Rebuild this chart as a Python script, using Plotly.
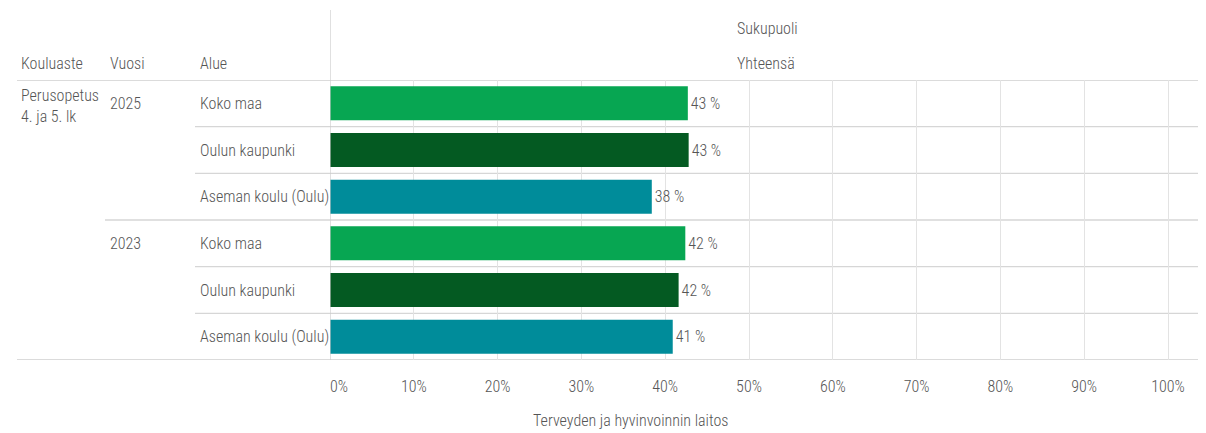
import plotly.graph_objects as go

# ---- data ----
kouluaste = "Perusopetus<br>4. ja 5. lk"
years = ["2025", "2023"]
areas = ["Koko maa", "Oulun kaupunki", "Aseman koulu (Oulu)"]
values_2025 = [42.7, 42.8, 38.4]
values_2023 = [42.4, 41.6, 40.9]
area_colors = ["#07a652", "#045a22", "#008c9a"]
tick_vals = [0, 10, 20, 30, 40, 50, 60, 70, 80, 90, 100]
tick_text = ["\u00a0\u00a0\u00a0\u00a0\u00a00%"] + [f"{v}%" for v in tick_vals[1:]]

FONT = "Roboto Condensed, Arial Narrow, Liberation Sans Narrow, Roboto, sans-serif"
TXT = "#555555"
FS = 16
FW = 300

OFF = 8  # page body margin
W, H = 1206 - OFF, 433 - OFF
ML, MR, MT = 330 - OFF, 0, 80 - OFF
MB = H - (360 - OFF)
PW = W - ML - MR
PH = H - MT - MB


def px_to_paper_x(px):
    return (px - OFF - ML) / PW


def px_to_paper_y(py):
    return 1 - (py - OFF - MT) / PH


all_vals = values_2025 + values_2023
all_areas = areas + areas
all_colors = area_colors + area_colors
rows = list(range(len(all_vals)))

fig = go.Figure()
fig.add_trace(go.Bar(
    x=all_vals, y=rows, orientation="h",
    width=0.73,
    marker=dict(color=all_colors, line=dict(width=0)),
    text=[f"{v:.0f} %" for v in all_vals],
    textposition="outside",
    textfont=dict(family=FONT, size=FS, color=TXT, weight=FW),
    cliponaxis=False,
    hoverinfo="skip",
))

shapes = []
n = len(rows)
for i in range(n + 1):
    yb = i - 0.5
    if i == 0 or i == n:
        x0 = px_to_paper_x(17)
        color = "#cfcfcf"
    elif i == len(areas):
        x0 = px_to_paper_x(105)
        color = "#d6d6d6"
    else:
        x0 = px_to_paper_x(195)
        color = "#d6d6d6"
    shapes.append(dict(type="line", xref="paper", yref="y", x0=x0, x1=1,
                       y0=yb, y1=yb, line=dict(color=color, width=1.3), layer="below"))
shapes.append(dict(type="line", xref="x", yref="paper", x0=0, x1=0,
                   y0=0, y1=px_to_paper_y(10), line=dict(color="#cccccc", width=1.2)))
fig.update_layout(shapes=shapes)

annotations = []


def ann(text, x, y, yref="paper", xanchor="left", yanchor="middle"):
    annotations.append(dict(text=text, x=x, y=y, xref="paper", yref=yref,
                            xanchor=xanchor, yanchor=yanchor, showarrow=False,
                            font=dict(family=FONT, size=FS, color=TXT, weight=FW), align="left"))


ann("Kouluaste", px_to_paper_x(19), px_to_paper_y(63))
ann("Vuosi", px_to_paper_x(108), px_to_paper_y(63))
ann("Alue", px_to_paper_x(198), px_to_paper_y(63))
ann("Sukupuoli", px_to_paper_x(735), px_to_paper_y(28))
ann("Yhteensä", px_to_paper_x(735), px_to_paper_y(63))
ann(kouluaste, px_to_paper_x(19), -0.42, yref="y", yanchor="top")
for gi, yr in enumerate(years):
    ann(yr, px_to_paper_x(108), gi * len(areas), yref="y")
for r, a in zip(rows, all_areas):
    ann(a, px_to_paper_x(198), r, yref="y")
ann("Terveyden ja hyvinvoinnin laitos", px_to_paper_x(630), px_to_paper_y(420), xanchor="center")

fig.update_layout(
    annotations=annotations,
    width=W, height=H,
    margin=dict(l=ML, r=MR, t=MT, b=MB, pad=0),
    paper_bgcolor="white", plot_bgcolor="white",
    showlegend=False,
    font=dict(family=FONT, size=FS, color=TXT, weight=FW),
    xaxis=dict(range=[0, PW / 8.38], tickvals=tick_vals, ticktext=tick_text,
               showgrid=True, gridcolor="#e3e3e3", gridwidth=1,
               zeroline=False, showline=False,
               ticks="outside", ticklen=12, tickcolor="rgba(0,0,0,0)",
               tickfont=dict(family=FONT, size=FS, color=TXT, weight=FW), fixedrange=True),
    yaxis=dict(range=[n - 0.5, -0.5], showticklabels=False, showgrid=False,
               zeroline=False, showline=False, fixedrange=True),
)

fig.write_html("out.html")
